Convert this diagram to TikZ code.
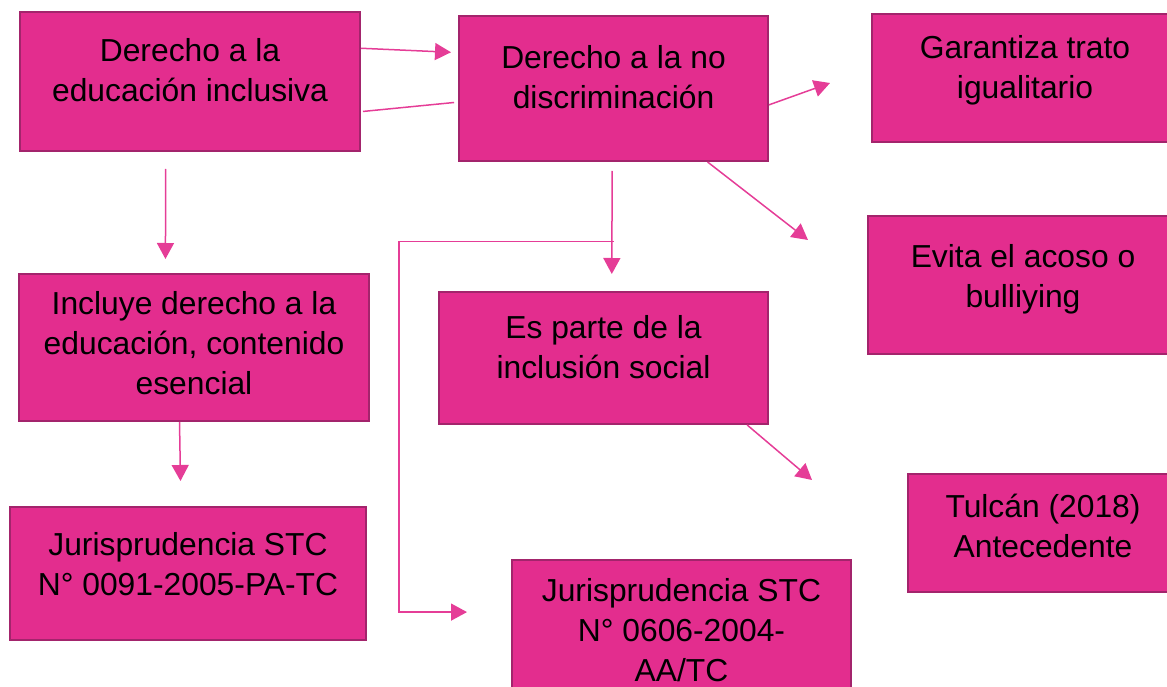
\documentclass[tikz,border=0pt]{standalone}
\usepackage{fontspec}
\setmainfont{Liberation Sans}
\usetikzlibrary{arrows.meta,positioning}
\definecolor{rosa}{HTML}{E32D8E}
\definecolor{borde}{HTML}{A3246C}
\definecolor{trazo}{HTML}{E53D97}
\tikzstyle{caja} = [rectangle, draw=borde, fill=rosa, line width=2pt, inner sep=0pt]
\tikzstyle{texto} = [align=center, inner sep=0pt, font=\fontsize{31.8}{40}\selectfont]
\tikzstyle{linea} = [draw=trazo, line width=1.5pt]
\tikzstyle{flecha} = [linea, -{Triangle[length=16pt,width=17pt]}]

\begin{document}
\begin{tikzpicture}[x=1pt, y=-1pt]
	\useasboundingbox (0,0) rectangle (1167,687);
	% Place boxes
	\node [caja, minimum width=340, minimum height=139] (der) at (190,81.5) {};
	\node [caja, minimum width=309, minimum height=145] (nodis) at (613.5,88.5) {};
	\node [caja, minimum width=306, minimum height=128] (trato) at (1025,78) {};
	\node [caja, minimum width=310, minimum height=138] (acoso) at (1023,285) {};
	\node [caja, minimum width=350, minimum height=147] (incluye) at (194,347.5) {};
	\node [caja, minimum width=329, minimum height=132] (social) at (603.5,358) {};
	\node [caja, minimum width=356, minimum height=133] (stc1) at (188,573.5) {};
	\node [caja, minimum width=270, minimum height=118] (tulcan) at (1043,533) {};
	\node [caja, minimum width=339, minimum height=140] (stc2) at (681.5,630) {};

	% Texts
	\node [texto] (der-t) at ([yshift=11.5pt]der) {Derecho a la\\educación inclusiva};
	\node [texto] (nodis-t) at ([yshift=11pt]nodis) {Derecho a la no\\discriminación};
	\node [texto] (trato-t) at ([yshift=8pt]trato) {Garantiza trato\\igualitario};
	\node [texto] (acoso-t) at ([yshift=6pt]acoso) {Evita el acoso o\\bulliying};
	\node [texto] (incluye-t) at ([yshift=4.5pt]incluye) {Incluye derecho a la\\educación, contenido\\esencial};
	\node [texto] (social-t) at ([yshift=11pt]social) {Es parte de la\\inclusión social};
	\node [texto] (stc1-t) at ([yshift=9pt]stc1) {Jurisprudencia STC\\N° 0091-2005-PA-TC};
	\node [texto] (tulcan-t) at ([yshift=7.5pt]tulcan) {Tulcán (2018)\\Antecedente};
	\node [texto] (stc2-t) at (stc2) {Jurisprudencia STC\\N° 0606-2004-\\AA/TC};

	% Free ends
	\coordinate (trato-in) at (830,83);
	\coordinate (acoso-in) at (808,240);
	\coordinate (tulcan-in) at (812,480);

	% Draw edges
	\path [flecha, shorten >=7pt] (der.11) -- (nodis.167);
	\path [linea, shorten <=2pt, shorten >=4pt] (der.-10) -- (nodis.185);
	\path [flecha] (nodis.-6) -- (trato-in);
	\path [flecha] (nodis.-38) -- (acoso-in);
	\path [flecha, shorten <=17pt, shorten >=14pt] (der.-109) -- (incluye.111);
	\path [flecha, shorten <=9pt, shorten >=17pt] (nodis.-91) -- coordinate[pos=0.618] (rama) (social.83);
	\path [flecha, shorten >=44pt] ([xshift=2pt]rama) -- ++(-215,0) |- (stc2.174);
	\path [flecha, shorten >=25pt] (incluye.-101.5) -- (stc1.96);
	\path [flecha] (social.-25) -- (tulcan-in);
\end{tikzpicture}
\end{document}
